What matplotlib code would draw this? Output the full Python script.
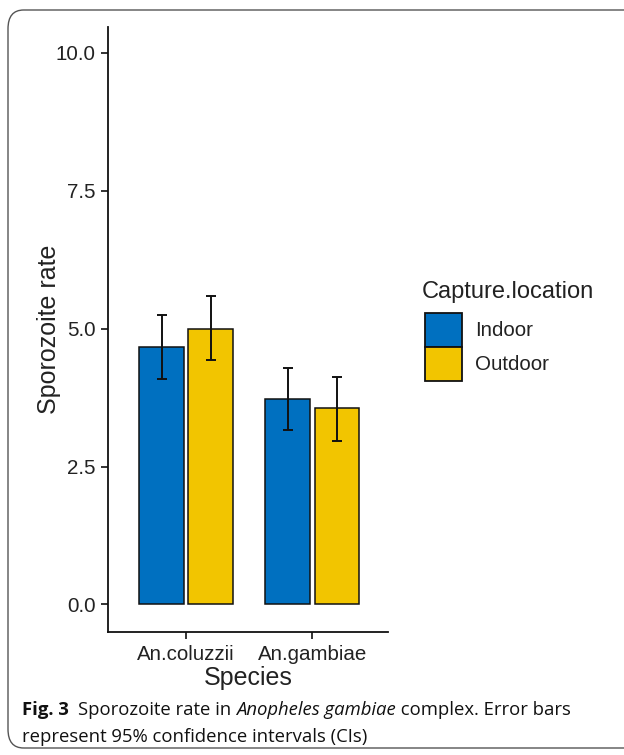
import matplotlib
matplotlib.use("Agg")
import matplotlib.pyplot as plt
from matplotlib.patches import FancyBboxPatch, Rectangle
import numpy as np

# values
species = ["An.coluzzii", "An.gambiae"]
locations = ["Indoor", "Outdoor"]
rate_indoor = [4.67, 3.72]
rate_outdoor = [4.99, 3.56]
ci_low_indoor = [4.08, 3.16]
ci_high_indoor = [5.24, 4.29]
ci_low_outdoor = [4.43, 2.97]
ci_high_outdoor = [5.60, 4.13]
y_ticks = [0.0, 2.5, 5.0, 7.5, 10.0]

BLUE = "#0070C0"
YELLOW = "#F2C500"
TEXT = "#222222"

W, H = 624, 755
fig = plt.figure(figsize=(W / 100, H / 100), dpi=100)


def fx(px):
    return px / W


def fy(py):
    return 1 - py / H


# axes box in pixel coordinates of the reference
ax = fig.add_axes([fx(108), fy(632), fx(388) - fx(108), fy(27) - fy(632)])

x = np.arange(len(species))
bar_w = 0.355
offset = 0.195

series = [
    (rate_indoor, ci_low_indoor, ci_high_indoor, BLUE, -offset),
    (rate_outdoor, ci_low_outdoor, ci_high_outdoor, YELLOW, offset),
]

for values, low, high, color, shift in series:
    vals = np.array(values)
    err = [vals - np.array(low), np.array(high) - vals]
    ax.bar(x + shift, vals, width=bar_w, color=color,
           edgecolor="#111111", linewidth=1.1, zorder=2)
    ax.errorbar(x + shift, vals, yerr=err, fmt="none", ecolor="#111111",
                elinewidth=1.4, capsize=3.5, capthick=1.4, zorder=3)

ax.set_xlim(-0.62, 1.6)
ax.set_ylim(-0.5, 10.47)
ax.set_xticks(x)
ax.set_xticklabels(species)
ax.set_yticks(y_ticks)
ax.set_yticklabels([f"{t:.1f}" for t in y_ticks])

for side in ["top", "right"]:
    ax.spines[side].set_visible(False)
for side in ["left", "bottom"]:
    ax.spines[side].set_linewidth(1.3)
    ax.spines[side].set_color("#111111")

ax.tick_params(axis="both", length=5, width=1.2, color="#111111",
               labelsize=14.8, labelcolor=TEXT, pad=4)
for lab in ax.get_xticklabels() + ax.get_yticklabels():
    lab.set_family("Liberation Sans")

ax.set_xlabel("Species", fontsize=18, family="Liberation Sans",
              color=TEXT, labelpad=2)
ax.set_ylabel("Sporozoite rate", fontsize=18, family="Liberation Sans",
              color=TEXT, labelpad=-4)

# legend drawn by hand to match ggplot placement
fig.text(fx(422), fy(292), "Capture.location", fontsize=17,
         family="Liberation Sans", color=TEXT, va="center", ha="left")
legend_colors = [BLUE, YELLOW]
for i, (loc, col) in enumerate(zip(locations, legend_colors)):
    top = 313 + i * 34
    fig.add_artist(Rectangle((fx(425), fy(top + 34)), fx(37), fy(top) - fy(top + 34),
                             transform=fig.transFigure, facecolor=col,
                             edgecolor="#111111", linewidth=1.3))
    fig.text(fx(475), fy(top + 17), loc, fontsize=14.8,
             family="Liberation Sans", color=TEXT, va="center", ha="left")

# rounded frame around the figure, right side runs off the image
frame = FancyBboxPatch((fx(8), fy(748)), fx(700) - fx(8), fy(10) - fy(748),
                       boxstyle="round,pad=0,rounding_size=0.025",
                       transform=fig.transFigure, facecolor="none",
                       edgecolor="#555555", linewidth=1.0, clip_on=False)
fig.add_artist(frame)

# caption, written piece by piece so the italic part keeps the same family
cap_size = 13.3
cap_font = "Open Sans"
pieces = [
    ("Fig. 3", "bold", "normal", 9),
    ("Sporozoite rate in ", "normal", "normal", 0),
    ("Anopheles gambiae", "normal", "italic", 0),
    (" complex. Error bars", "normal", "normal", 0),
]
renderer = fig.canvas.get_renderer()
xpos = 22
for txt, weight, style, gap in pieces:
    t = fig.text(fx(xpos), fy(710), txt, fontsize=cap_size, family=cap_font,
                 weight=weight, style=style, color="#111111",
                 va="center", ha="left")
    bb = t.get_window_extent(renderer=renderer)
    xpos = bb.x1 + gap
fig.text(fx(22), fy(737), "represent 95% confidence intervals (CIs)",
         fontsize=cap_size, family=cap_font, color="#111111",
         va="center", ha="left")

fig.savefig("out.png", dpi=100)
